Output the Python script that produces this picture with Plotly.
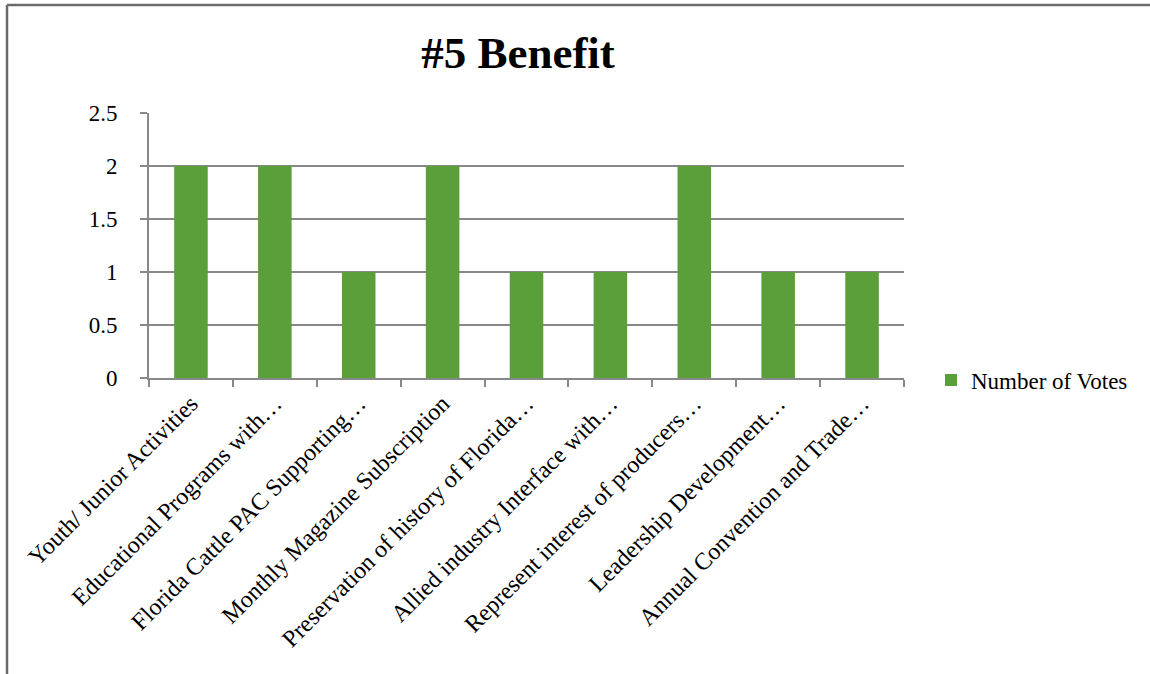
import plotly.graph_objects as go

categories = [
    "Youth/ Junior Activities",
    "Educational Programs with…",
    "Florida Cattle PAC Supporting…",
    "Monthly Magazine Subscription",
    "Preservation of history of Florida…",
    "Allied industry Interface with…",
    "Represent interest of producers…",
    "Leadership Development…",
    "Annual Convention and Trade…",
]
votes = [2, 2, 1, 2, 1, 1, 2, 1, 1]
series_name = "Number of Votes"
y_ticks = [0, 0.5, 1, 1.5, 2, 2.5]
y_tick_labels = ["0", "0.5", "1", "1.5", "2", "2.5"]

W, H = 1150, 674
L, R, T, B = 149, 246, 113, 296
pw, ph = W - L - R, H - T - B

FONT = "Liberation Serif"
GRID = "#888888"

fig = go.Figure()
fig.add_trace(go.Bar(
    x=categories, y=votes, name=series_name,
    marker=dict(color="#5B9F3A", line=dict(width=0)),
    showlegend=True,
))

def px_x(p):
    return (p - L) / pw

def px_y(p):
    return 1 - (p - T) / ph

shapes = [
    dict(type="line", xref="paper", yref="paper",
         x0=px_x(7), x1=px_x(1155), y0=px_y(5), y1=px_y(5),
         line=dict(color="#6b6b6b", width=2.5)),
    dict(type="line", xref="paper", yref="paper",
         x0=px_x(7), x1=px_x(7), y0=px_y(5), y1=px_y(680),
         line=dict(color="#6b6b6b", width=2.5)),
]

fig.update_layout(
    width=W, height=H,
    margin=dict(l=L, r=R, t=T, b=B, pad=0),
    paper_bgcolor="white", plot_bgcolor="white",
    font=dict(family=FONT, color="black", size=23),
    title=dict(text="<b>#5 Benefit</b>", x=518 / W, xanchor="center",
               y=1 - 52 / H, yanchor="middle",
               font=dict(family=FONT, size=45, color="black")),
    bargap=0.6,
    showlegend=True,
    legend=dict(x=px_x(931), xanchor="left", y=px_y(380), yanchor="middle",
                font=dict(family=FONT, size=23, color="black"),
                bgcolor="rgba(0,0,0,0)", itemwidth=30),
    xaxis=dict(
        type="category", tickangle=-45,
        showline=True, linecolor=GRID, linewidth=2,
        ticks="outside", ticklen=7, tickcolor=GRID, tickwidth=2,
        tickson="boundaries", showgrid=False,
        tickfont=dict(family=FONT, size=24, color="black"),
    ),
    yaxis=dict(
        range=[0, 2.5], tickvals=y_ticks, ticktext=y_tick_labels,
        showline=True, linecolor=GRID, linewidth=2,
        ticks="outside", ticklen=7, tickcolor=GRID, tickwidth=2,
        showgrid=True, gridcolor=GRID, gridwidth=2,
        zeroline=False, ticklabelstandoff=18,
        tickfont=dict(family=FONT, size=23, color="black"),
    ),
    shapes=shapes,
)

fig.write_html("out.html", config={"displayModeBar": False},
               post_script="document.body.style.margin='0';document.body.style.overflow='hidden';")
